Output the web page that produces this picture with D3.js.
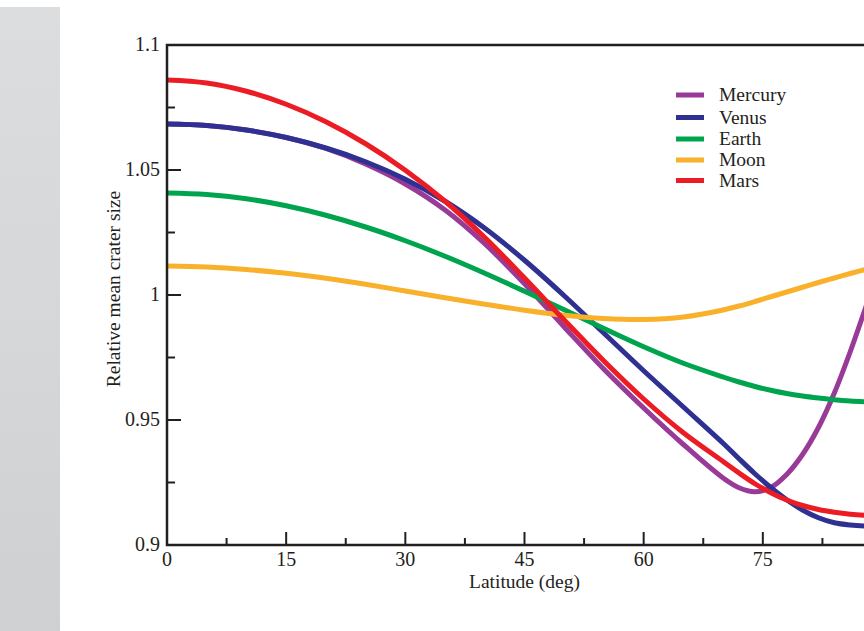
<!DOCTYPE html>
<html>
<head>
<meta charset="utf-8">
<script src="https://cdn.jsdelivr.net/npm/d3@7"></script>
<style>
html,body{margin:0;padding:0;background:#fff;overflow:hidden;}
svg{display:block;}
text{font-family:"Liberation Serif","Times New Roman",serif;fill:#231f20;}
</style>
</head>
<body>
<svg id="chart" width="864" height="631"></svg>
<script>
// ---- data ----
const latitudes = [0,5,10,15,20,25,30,35,40,45,50,55,60,65,70,72,74,76,78,80,82,84,86,88,90];
const mercury = [1.0684,1.0678,1.0660,1.0630,1.0586,1.0524,1.0444,1.0340,1.0205,1.0045,0.9872,0.9703,0.9548,0.9402,0.9268,0.9229,0.9213,0.9230,0.9282,0.9362,0.9470,0.9608,0.9773,0.9955,1.0140];
const venus   = [1.0684,1.0678,1.0660,1.0630,1.0588,1.0533,1.0463,1.0375,1.0267,1.0139,0.9997,0.9847,0.9697,0.9552,0.9407,0.9345,0.9285,0.9230,0.9181,0.9140,0.9109,0.9089,0.9080,0.9076,0.9075];
const earth   = [1.0408,1.0402,1.0385,1.0357,1.0319,1.0272,1.0217,1.0155,1.0087,1.0015,0.9941,0.9866,0.9793,0.9727,0.9672,0.9652,0.9634,0.9619,0.9606,0.9596,0.9588,0.9581,0.9576,0.9573,0.9571];
const moon    = [1.0116,1.0112,1.0102,1.0087,1.0067,1.0043,1.0016,0.9989,0.9963,0.9939,0.9919,0.9906,0.9902,0.9912,0.9940,0.9956,0.9974,0.9993,1.0012,1.0031,1.0050,1.0068,1.0086,1.0103,1.0120];
const mars    = [1.0860,1.0848,1.0815,1.0763,1.0693,1.0605,1.0499,1.0375,1.0230,1.0068,0.9900,0.9736,0.9584,0.9449,0.9334,0.9288,0.9245,0.9209,0.9180,0.9158,0.9142,0.9131,0.9123,0.9118,0.9115];
const seriesNames = ["Mercury","Venus","Earth","Moon","Mars"];
const seriesColors = ["#983a97","#2e3192","#00a44f","#f9b12b","#ec1c24"];
const xTicks = [0,15,30,45,60,75];
const yTicks = [0.9,0.95,1,1.05,1.1];
const yTickLabels = ["0.9","0.95","1","1.05","1.1"];

const allSeries = [mercury, venus, earth, moon, mars];

const svg = d3.select("#chart");

// grey side panel
const defs = svg.append("defs");
const grad = defs.append("linearGradient").attr("id","panelGrad")
  .attr("x1","0").attr("y1","0").attr("x2","0").attr("y2","1");
grad.append("stop").attr("offset","0").attr("stop-color","#dcdddf");
grad.append("stop").attr("offset","0.5").attr("stop-color","#d6d7d9");
grad.append("stop").attr("offset","1").attr("stop-color","#cfd0d2");
svg.append("rect").attr("x",0).attr("y",7).attr("width",60).attr("height",624)
  .attr("fill","url(#panelGrad)");

const pLeft = 167, pRight = 882, pTop = 45, pBottom = 545;
const x = d3.scaleLinear().domain([0,90]).range([pLeft,pRight]);
const y = d3.scaleLinear().domain([0.9,1.1]).range([pBottom,pTop]);

const axisColor = "#231f20";
const g = svg.append("g");

// minor ticks
const xMinor = d3.range(0,91,7.5).filter(v => !xTicks.includes(v) && v !== 90);
const yMinor = d3.range(0.9,1.1001,0.025).map(v=>+v.toFixed(3)).filter(v => !yTicks.some(t=>Math.abs(t-v)<1e-6));

g.selectAll(".xmaj").data(xTicks).enter().append("line")
  .attr("x1",d=>x(d)).attr("x2",d=>x(d)).attr("y1",pBottom).attr("y2",pBottom-13)
  .attr("stroke",axisColor).attr("stroke-width",2);
g.selectAll(".xmin").data(xMinor).enter().append("line")
  .attr("x1",d=>x(d)).attr("x2",d=>x(d)).attr("y1",pBottom).attr("y2",pBottom-7)
  .attr("stroke",axisColor).attr("stroke-width",2);
g.selectAll(".ymaj").data(yTicks).enter().append("line")
  .attr("x1",pLeft).attr("x2",pLeft+14).attr("y1",d=>y(d)).attr("y2",d=>y(d))
  .attr("stroke",axisColor).attr("stroke-width",2);
g.selectAll(".ymin").data(yMinor).enter().append("line")
  .attr("x1",pLeft).attr("x2",pLeft+8).attr("y1",d=>y(d)).attr("y2",d=>y(d))
  .attr("stroke",axisColor).attr("stroke-width",2);

// curves
const line = d3.line().x((d,i)=>x(latitudes[i])).y(d=>y(d)).curve(d3.curveCatmullRom.alpha(0.5));
const clip = defs.append("clipPath").attr("id","plotClip");
clip.append("rect").attr("x",pLeft).attr("y",pTop).attr("width",pRight-pLeft).attr("height",pBottom-pTop);

const curves = svg.append("g").attr("clip-path","url(#plotClip)");
allSeries.forEach((s,i)=>{
  curves.append("path").attr("d",line(s)).attr("fill","none")
    .attr("stroke",seriesColors[i]).attr("stroke-width",5)
    .attr("stroke-linecap","butt");
});

// frame
svg.append("path")
  .attr("d",`M${pLeft},${pTop}H${pRight}V${pBottom}H${pLeft}Z`)
  .attr("fill","none").attr("stroke",axisColor).attr("stroke-width",2.5);

// tick labels
svg.selectAll(".xl").data(xTicks).enter().append("text")
  .attr("x",d=>x(d)).attr("y",566).attr("text-anchor","middle")
  .attr("font-size",20).text(d=>d);
svg.selectAll(".yl").data(yTicks).enter().append("text")
  .attr("x",160).attr("y",d=>y(d)+6).attr("text-anchor","end")
  .attr("font-size",20).text((d,i)=>yTickLabels[i]);

// axis titles
svg.append("text").attr("x", x(45)).attr("y",588)
  .attr("text-anchor","middle").attr("font-size",19.5)
  .text("Latitude (deg)");
svg.append("text").attr("transform","translate(120,289) rotate(-90)")
  .attr("text-anchor","middle").attr("font-size",19.5).text("Relative mean crater size");

// legend
const legY = [95,117.5,139,160,180.5];
const leg = svg.append("g");
seriesNames.forEach((n,i)=>{
  leg.append("line").attr("x1",676).attr("x2",704).attr("y1",legY[i]).attr("y2",legY[i])
    .attr("stroke",seriesColors[i]).attr("stroke-width",5);
  leg.append("text").attr("x",719).attr("y",legY[i]+6).attr("font-size",19.5).text(n);
});
</script>
</body>
</html>
